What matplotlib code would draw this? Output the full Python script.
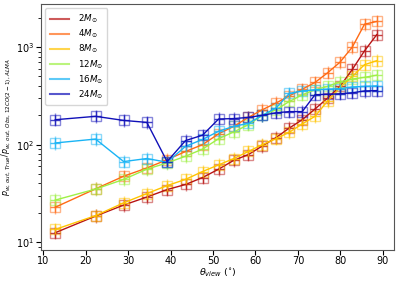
import numpy as np
import matplotlib
matplotlib.use("Agg")
import matplotlib.pyplot as plt

# viewing angles (deg)
theta = [12.84, 22.33, 28.96, 34.42, 39.19, 43.53, 47.55, 51.32, 54.90, 58.33,
         61.64, 64.85, 67.98, 71.03, 74.04, 77.00, 79.92, 82.82, 85.70, 88.57]

ratio_2 = [12.5, 18.5, 24, 29, 34.6, 39, 46, 56, 69, 79,
           97, 118, 148, 180, 232, 300, 395, 590, 915, 1340]
ratio_4 = [22.8, 35.2, 47.4, 57.6, 70, 85, 100, 129, 154, 190,
           228, 267, 316, 370, 434, 545, 700, 1000, 1718, 1830]
ratio_8 = [13.5, 18.7, 25.3, 31.5, 38, 44, 53, 62, 72, 85,
           100, 115, 134, 163, 195, 280, 385, 500, 660, 725]
ratio_12 = [27, 35, 44, 56, 65, 76, 90, 115, 135, 160,
            200, 228, 277, 324, 366, 395, 440, 470, 490, 515]
ratio_16 = [104, 114, 67, 72, 66, 96, 113, 137, 154, 165,
            200, 237, 335, 355, 365, 370, 375, 390, 395, 400]
ratio_24 = [180, 195, 177, 169, 67, 110, 125, 183, 185, 190,
            200, 212, 218, 218, 325, 328, 332, 340, 355, 358]

labels = [r'$2M_{\odot}$', r'$4M_{\odot}$', r'$8M_{\odot}$',
          r'$12M_{\odot}$', r'$16M_{\odot}$', r'$24M_{\odot}$']
colors = ['#b81414', '#ff6a14', '#ffc400', '#9ef046', '#1ab4f5', '#1010b8']
err_fac = 1.17  # multiplicative error bar size

fig = plt.figure(figsize=(3.99, 2.81), dpi=100)
ax = fig.add_axes([0.103, 0.112, 0.884, 0.874])

all_series = [ratio_2, ratio_4, ratio_8, ratio_12, ratio_16, ratio_24]
handles = []
for vals, lab, col in zip(all_series, labels, colors):
    y = np.array(vals, dtype=float)
    yerr = [y - y / err_fac, y * err_fac - y]
    ax.plot(theta, y, '-', color=col, lw=1.0, zorder=3)
    ax.errorbar(theta, y, yerr=yerr, fmt='s', mfc='none', mec=col, ms=6.5,
                ecolor=col, elinewidth=1.0, capsize=0, alpha=0.5, zorder=2)
    ax.plot(theta, y, '+', color=col, ms=6.5, mew=1.0, alpha=0.8, zorder=3)
    h, = ax.plot([], [], '-', color=col, lw=1.5, alpha=0.7, label=lab)
    handles.append(h)

ax.set_yscale('log')
ax.set_xlim(9.5, 92.6)
ax.set_ylim(8.4, 2770)
ax.tick_params(labelsize=7, width=0.8, pad=1.5)
ax.set_xlabel(r'$\theta_{view}$ ($^{\circ}$)', fontsize=6.8, labelpad=0)
ax.set_ylabel(r'$\dot{p}_{w,\,out,\,True}/\dot{p}_{w,\,out,\,Obs,\,12CO(2-1),\,ALMA}$',
              fontsize=5.8, labelpad=1)
for s in ax.spines.values():
    s.set_color('#555555')
ax.legend(handles=handles, loc='upper left', fontsize=6.3, handlelength=2.2,
          labelspacing=0.3, borderpad=0.5, handletextpad=1.0)

fig.savefig('out.png', dpi=100)
